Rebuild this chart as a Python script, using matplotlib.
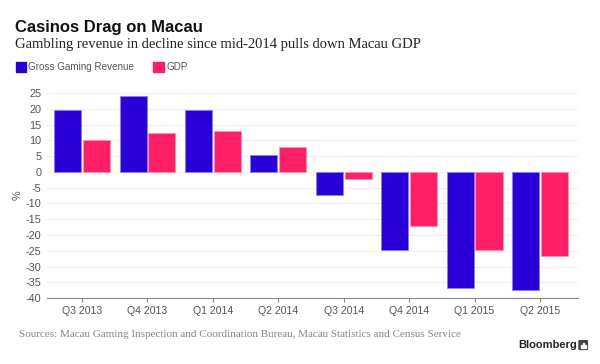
import matplotlib.pyplot as plt
from matplotlib.patches import Rectangle, FancyBboxPatch
import numpy as np

quarters = ['Q3 2013', 'Q4 2013', 'Q1 2014', 'Q2 2014', 'Q3 2014', 'Q4 2014', 'Q1 2015', 'Q2 2015']
ggr = [19.6, 23.9, 19.7, 5.5, -7.2, -24.6, -36.7, -37.5]
gdp = [10.0, 12.3, 13.0, 8.0, -2.3, -17.3, -24.6, -26.5]
yticks = list(range(-40, 30, 5))

blue = '#2a00d8'
pink = '#fe1f66'
sans = 'Liberation Sans'
serif = 'Liberation Serif'

fig = plt.figure(figsize=(6, 3.64), dpi=100)
ax = fig.add_axes([0.0783, 0.181, 0.885, 0.5635])

x = np.arange(len(quarters))
w = 0.413
ax.bar(x - 0.22, ggr, w, color=blue, edgecolor='#8c7fe8', linewidth=0.6, zorder=3)
ax.bar(x + 0.22, gdp, w, color=pink, edgecolor='#ff8fb0', linewidth=0.6, zorder=3)

ax.set_xlim(-0.535, 7.58)
ax.set_ylim(-40, 25)
ax.set_yticks(yticks)
ax.set_yticklabels([str(t) for t in yticks], fontsize=7.8, color='#555555', family=sans)
ax.set_xticks(x)
ax.set_xticklabels(quarters, fontsize=7.6, color='#555555', family=sans)
ax.tick_params(axis='y', length=0, pad=4)
ax.tick_params(axis='x', length=3, color='#888888', pad=3)
ax.grid(axis='y', color='#efefef', linewidth=0.8, zorder=0)
for s in ['top', 'right', 'left']:
    ax.spines[s].set_visible(False)
ax.spines['bottom'].set_color('#888888')
ax.spines['bottom'].set_linewidth(0.8)
ax.set_ylabel('%', fontsize=7.8, color='#555555', family=sans, labelpad=2)

fig.text(0.025, 0.913, 'Casinos Drag on Macau', fontsize=12, fontweight='bold', family=sans,
         color='#111111', va='baseline')
fig.text(0.025, 0.867, 'Gambling revenue in decline since mid-2014 pulls down Macau GDP', fontsize=10.5,
         family=serif, color='#222222', va='baseline')

fig.patches.append(Rectangle((0.026, 0.801), 0.017, 0.029, transform=fig.transFigure, color=blue))
fig.text(0.0475, 0.815, 'Gross Gaming Revenue', fontsize=7.1, family=sans, color='#555555', va='center')
fig.patches.append(Rectangle((0.2555, 0.801), 0.017, 0.029, transform=fig.transFigure, color=pink))
fig.text(0.2767, 0.815, 'GDP', fontsize=7.1, family=sans, color='#555555', va='center')

fig.text(0.031, 0.074, 'Sources: Macau Gaming Inspection and Coordination Bureau, Macau Statistics and Census Service',
         fontsize=8, family=serif, color='#888888', va='baseline')
fig.text(0.863, 0.043, 'Bloomberg', fontsize=8, fontweight='bold', family=sans, color='#222222', va='baseline')
# little logo square
fig.patches.append(FancyBboxPatch((0.966, 0.041), 0.012, 0.022, boxstyle='round,pad=0.001',
                                  transform=fig.transFigure, color='#444444'))
for bx, bh in [(0.9685, 0.008), (0.9715, 0.012), (0.9745, 0.006)]:
    fig.patches.append(Rectangle((bx, 0.045), 0.0015, bh, transform=fig.transFigure, color='white'))

fig.savefig('out.png', dpi=100, facecolor='white')
